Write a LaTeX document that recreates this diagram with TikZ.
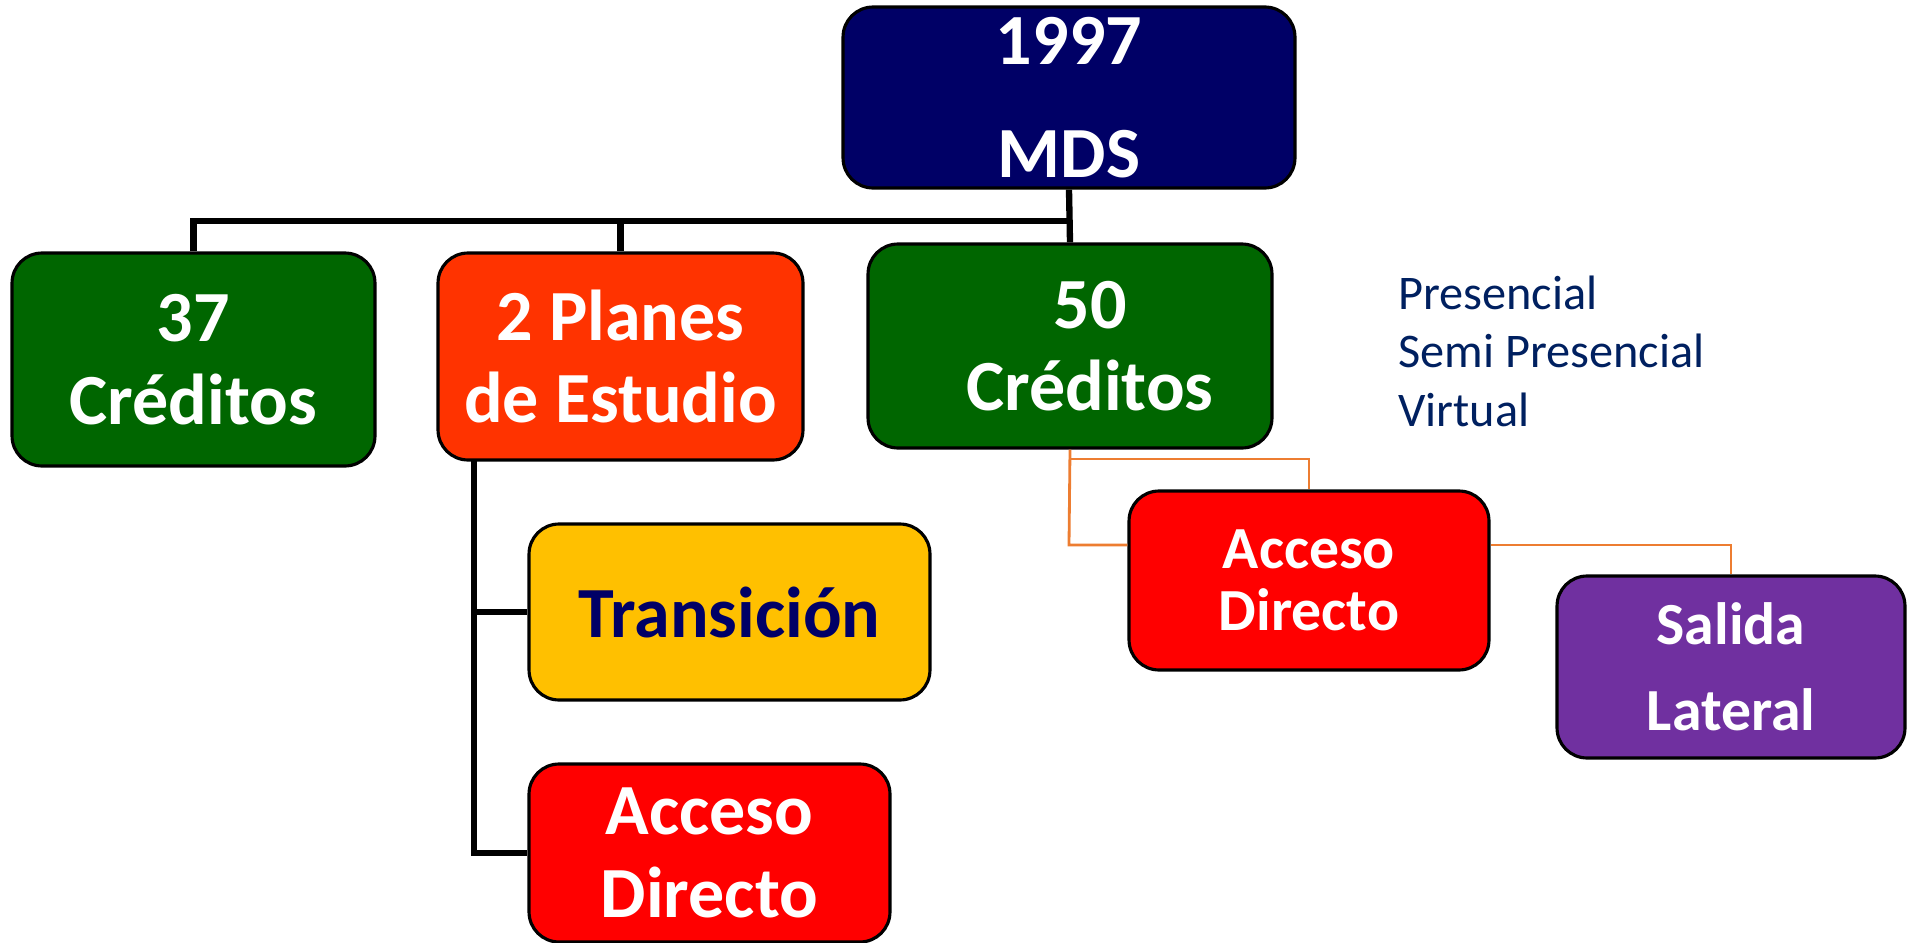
\documentclass[tikz,border=0pt]{standalone}
\usepackage{fontspec}
\setmainfont{Carlito}
\usetikzlibrary{positioning}
\definecolor{navybox}{HTML}{000066}
\definecolor{greenbox}{HTML}{006600}
\definecolor{orangebox}{HTML}{FF3300}
\definecolor{yellowbox}{HTML}{FFC000}
\definecolor{redbox}{HTML}{FF0000}
\definecolor{purplebox}{HTML}{7030A0}
\definecolor{listblue}{HTML}{002060}
\definecolor{feedline}{HTML}{ED7D31}
\tikzset{
  card/.style={draw=black, line width=1.8pt, rounded corners=0.6cm, align=center,
    inner sep=0pt, text=white, font=\bfseries\fontsize{41}{47}\selectfont},
  smallcard/.style={card, font=\bfseries\fontsize{34}{35}\selectfont},
  trunk/.style={line width=3.6pt},
  feed/.style={feedline, line width=1.6pt}
}
\begin{document}
\begin{tikzpicture}[x=0.02cm,y=-0.02cm]
\useasboundingbox (0,0) rectangle (1907,943);
\node[card, fill=navybox, minimum width=9.04cm, minimum height=3.62cm,
  font=\bfseries\fontsize{41}{64}\selectfont] (top) at (1069,97.5) {1997\\MDS};
\node[card, fill=greenbox, minimum width=7.26cm, minimum height=4.26cm] (c37) at (193.5,359.5) {37\\Créditos};
\node[card, fill=orangebox, minimum width=7.3cm, minimum height=4.14cm] (planes) at (620.5,356.5) {2 Planes\\de Estudio};
\node[card, fill=greenbox, minimum width=8.08cm, minimum height=4.08cm] (fifty) at (1070,346) {\hspace*{0.8cm}50\\\hspace*{0.8cm}Créditos};
\node[card, fill=yellowbox, text=navybox, minimum width=8.02cm, minimum height=3.52cm] (trans) at (729.5,612) {Transición};
\node[card, fill=redbox, minimum width=7.22cm, minimum height=3.56cm] (accA) at (709.5,853) {Acceso\\Directo};
\node[smallcard, fill=redbox, minimum width=7.2cm, minimum height=3.58cm] (accB) at (1309,580.5) {Acceso\\Directo};
\node[smallcard, fill=purplebox, minimum width=6.96cm, minimum height=3.64cm,
  font=\bfseries\fontsize{34}{49}\selectfont] (salida) at (1731,667) {Salida\\Lateral};
\node[anchor=west, inner sep=0pt, align=left, text=listblue,
  font=\fontsize{27.5}{33.3}\selectfont] (modes) at (1398,351) {Presencial\\Semi Presencial\\Virtual};
% black tree
\coordinate (bus) at (1069,221);
\coordinate (spine) at (474,460);
\draw[trunk] (top.south) -- (fifty.north);
\draw[trunk] (c37.north) |- (bus);
\draw[trunk] (planes.north) -- (planes.north |- bus);
\draw[trunk] (spine) |- (accA.west);
\draw[trunk] (spine |- trans.west) -- (trans.west);
% orange links
\coordinate (tap) at (1069,545);
\coordinate (fork) at (1069,459);
\draw[feed] (fifty.south) -- (tap) -- (tap -| accB.west);
\draw[feed] (fork) -| (accB.north);
\draw[feed] (tap -| accB.east) -| (salida.north);
\end{tikzpicture}
\end{document}
